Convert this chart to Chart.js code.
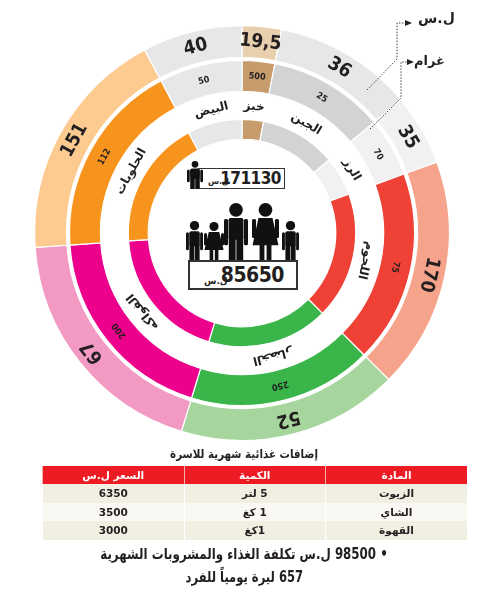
<!DOCTYPE html>
<html lang="ar"><head><meta charset="utf-8">
<script src="https://cdn.jsdelivr.net/npm/chart.js@4.4.1/dist/chart.umd.min.js"></script>
<style>
html,body{margin:0;padding:0;background:#fff;}
#wrap{position:relative;width:489px;height:608px;overflow:hidden;font-family:"DejaVu Sans",sans-serif;color:#231f20;}
#chartBox{position:absolute;left:0;top:0;width:489px;height:450px;}
#deco{position:absolute;left:0;top:0;width:489px;height:450px;pointer-events:none;}
.abs{position:absolute;white-space:nowrap;}
.numbox{position:absolute;box-sizing:border-box;border:1.6px solid #333;background:#fff;}
.num{position:absolute;right:3px;font-family:"DejaVu Sans Condensed","DejaVu Sans",sans-serif;font-weight:bold;letter-spacing:-0.5px;}
.cur{position:absolute;font-weight:bold;font-size:8px;}
#title{position:absolute;left:0;width:489px;top:447px;text-align:center;font-weight:bold;font-size:12px;}
.sx{display:inline-block;white-space:nowrap;}
table{position:absolute;left:42px;top:466px;width:425px;border-collapse:collapse;font-size:10.5px;font-weight:bold;table-layout:fixed;}
th{background:#ed1c24;color:#fff;height:18px;padding:0;border-left:1px solid #f6b0a8;font-weight:bold;}
td{height:18.5px;padding:0;text-align:center;border-left:1px solid #fff;}
tr.a td{background:#f1eee2;}
tr.b td{background:#faf8f2;}
.foot{position:absolute;left:0;width:489px;text-align:center;font-weight:bold;font-size:15px;}
</style></head>
<body><div id="wrap">
<div id="chartBox"><canvas id="c"></canvas></div>
<div class="numbox" style="left:198px;top:168px;width:87px;height:21px;"><span class="cur" style="left:9px;top:8px;">ل.س</span><span class="num" id="famTotal" style="font-size:17px;top:-1px;"></span></div>
<div class="numbox" style="left:188px;top:260px;width:110px;height:30px;border-width:2px;"><span class="cur" style="left:14px;top:14px;font-size:9px;">ل.س</span><span class="num" id="perTotal" style="font-size:21px;top:1px;right:12px;"></span></div>
<svg id="deco" width="489" height="450"></svg>
<div class="abs" style="left:418px;top:10px;font-weight:bold;font-size:14px;">ل.س</div>
<div class="abs" style="left:414px;top:53px;font-weight:bold;font-size:13px;">غرام</div>
<div id="title"><span class="sx" style="transform:scaleX(0.86)">إضافات غذائية شهرية للاسرة</span></div>
<table dir="rtl" id="tbl"></table>
<div class="foot" dir="rtl" style="top:545px;"><span class="sx" id="f1" style="transform:scaleX(0.79)"></span></div>
<div class="foot" dir="rtl" style="top:568px;"><span class="sx" id="f2" style="transform:scaleX(0.77)"></span></div>
</div>
<script>
// ---- data ----
const categories = ['خبز','الجبن','الرز','اللحوم','الخضار','الفواكه','الحلويات','البيض'];
const arcDegrees = [11, 39, 20, 65, 62, 69, 66, 28];
const pricesSYP = [19.5, 36, 35, 170, 52, 67, 151, 40];
const quantityGrams = [500, 25, 70, 75, 250, 200, 112, 50];
const outerColors = ['#e8cfae','#e6e7e8','#f1f1f2','#f6a38b','#a6d69e','#f29ac3','#fdca8f','#e6e7e8'];
const ringColors = ['#c69c6d','#d1d3d4','#f1f1f2','#ef4136','#39b54a','#ec008c','#f7941d','#e6e7e8'];
const familyMonthly = 171130;
const personMonthly = 85650;
const extraItems = ['الزيوت','الشاي','القهوة'];
const extraQty = ['5 لتر','1 كغ','1كغ'];
const extraPrice = [6350, 3500, 3000];
const tableHeads = ['المادة','الكمية','السعر ل.س'];
const monthlyFoodTotal = 98500;
const dailyPerPerson = 657;

// ---- html text ----
document.getElementById('famTotal').textContent = familyMonthly;
document.getElementById('perTotal').textContent = personMonthly;
const tbl = document.getElementById('tbl');
let h = '<tr>' + tableHeads.map(t => '<th>' + t + '</th>').join('') + '</tr>';
extraItems.forEach((it, i) => {
  h += '<tr class="' + (i % 2 ? 'b' : 'a') + '"><td>' + it + '</td><td>' + extraQty[i] + '</td><td>' + extraPrice[i] + '</td></tr>';
});
tbl.innerHTML = h;
document.getElementById('f1').textContent = '• ' + monthlyFoodTotal + ' ل.س تكلفة الغذاء والمشروبات الشهرية';
document.getElementById('f2').textContent = dailyPerPerson + ' ليرة يومياً للفرد';

// ---- decorative icons & pointer lines ----
const svg = document.getElementById('deco');
const NS = 'http://www.w3.org/2000/svg';
function el(tag, attrs) { const e = document.createElementNS(NS, tag); for (const k in attrs) e.setAttribute(k, attrs[k]); svg.appendChild(e); return e; }
function person(x, top, w, h, female) {
  const f = '#111';
  const r = h * 0.12;
  el('circle', {cx: x + w / 2, cy: top + r, r: r, fill: f});
  const sh = top + h * 0.265;
  if (!female) {
    el('rect', {x: x + w * 0.19, y: sh, width: w * 0.62, height: h * 0.38, rx: 2, fill: f});
    el('rect', {x: x, y: sh + 1, width: w * 0.17, height: h * 0.46, rx: 1.5, fill: f});
    el('rect', {x: x + w * 0.83, y: sh + 1, width: w * 0.17, height: h * 0.46, rx: 1.5, fill: f});
    el('rect', {x: x + w * 0.2, y: top + h * 0.6, width: w * 0.285, height: h * 0.4, fill: f});
    el('rect', {x: x + w * 0.515, y: top + h * 0.6, width: w * 0.285, height: h * 0.4, fill: f});
  } else {
    el('polygon', {points: [x + w * 0.24, sh, x + w * 0.76, sh, x + w * 0.98, top + h * 0.74, x + w * 0.02, top + h * 0.74].join(','), fill: f});
    el('rect', {x: x, y: sh + 1, width: w * 0.15, height: h * 0.33, rx: 1.5, fill: f});
    el('rect', {x: x + w * 0.85, y: sh + 1, width: w * 0.15, height: h * 0.33, rx: 1.5, fill: f});
    el('rect', {x: x + w * 0.28, y: top + h * 0.72, width: w * 0.18, height: h * 0.28, fill: f});
    el('rect', {x: x + w * 0.54, y: top + h * 0.72, width: w * 0.18, height: h * 0.28, fill: f});
  }
}
person(186, 221, 17, 39, false);
person(204, 222, 20, 38, true);
person(224, 203, 24, 57, false);
person(252, 203, 27, 57, true);
person(282, 221, 17, 39, false);
person(187, 161, 16, 28, false);
function dash(pts) { el('polyline', {points: pts.join(','), fill: 'none', stroke: '#444', 'stroke-width': 1, 'stroke-dasharray': '1.5,1.5'}); }
dash([367, 90, 397, 59, 397, 23, 406, 23]);
dash([370, 129, 401, 98, 401, 62, 408, 62]);
el('polygon', {points: '405,20 412,23 405,26', fill: '#222'});
el('polygon', {points: '407,59 414,62 407,65', fill: '#222'});

// ---- chart ----
const numFont = '"DejaVu Sans Condensed","DejaVu Sans",sans-serif';
const ringLabels = {
  id: 'ringLabels',
  afterDatasetsDraw(chart) {
    const ctx = chart.ctx;
    const draw = (dsIndex, texts, font, rShift) => {
      const meta = chart.getDatasetMeta(dsIndex);
      meta.data.forEach((arc, i) => {
        const p = arc.getProps(['x', 'y', 'startAngle', 'endAngle', 'innerRadius', 'outerRadius'], true);
        const a = (p.startAngle + p.endAngle) / 2;
        const r = (p.innerRadius + p.outerRadius) / 2 + (rShift || 0);
        ctx.save();
        ctx.translate(p.x + r * Math.cos(a), p.y + r * Math.sin(a));
        ctx.rotate(a + Math.PI / 2);
        ctx.font = font;
        ctx.fillStyle = '#231f20';
        ctx.textAlign = 'center';
        ctx.textBaseline = 'middle';
        ctx.fillText(texts[i], 0, 0);
        ctx.restore();
      });
    };
    draw(0, pricesSYP.map(v => String(v).replace('.', ',')), 'bold 19px ' + numFont, 0);
    draw(2, quantityGrams.map(String), 'bold 9px ' + numFont, 0);
    draw(3, categories, 'bold 12px "DejaVu Sans",sans-serif', -1);
  }
};
const border = {borderColor: '#ffffff', borderWidth: 1.2};
new Chart(document.getElementById('c'), {
  type: 'doughnut',
  data: {
    labels: categories,
    datasets: [
      Object.assign({data: arcDegrees, backgroundColor: outerColors, weight: 32}, border),
      {data: arcDegrees, backgroundColor: 'rgba(0,0,0,0)', borderWidth: 0, weight: 3},
      Object.assign({data: arcDegrees, backgroundColor: ringColors, weight: 31}, border),
      {data: arcDegrees, backgroundColor: 'rgba(0,0,0,0)', borderWidth: 0, weight: 28},
      Object.assign({data: arcDegrees, backgroundColor: ringColors, weight: 20}, border)
    ]
  },
  options: {
    responsive: true,
    maintainAspectRatio: false,
    animation: false,
    events: [],
    rotation: 0,
    cutout: '45.2%',
    layout: {padding: {left: 34, right: 39, top: 25, bottom: 9}},
    plugins: {legend: {display: false}, tooltip: {enabled: false}}
  },
  plugins: [ringLabels]
});
</script>
</body></html>
